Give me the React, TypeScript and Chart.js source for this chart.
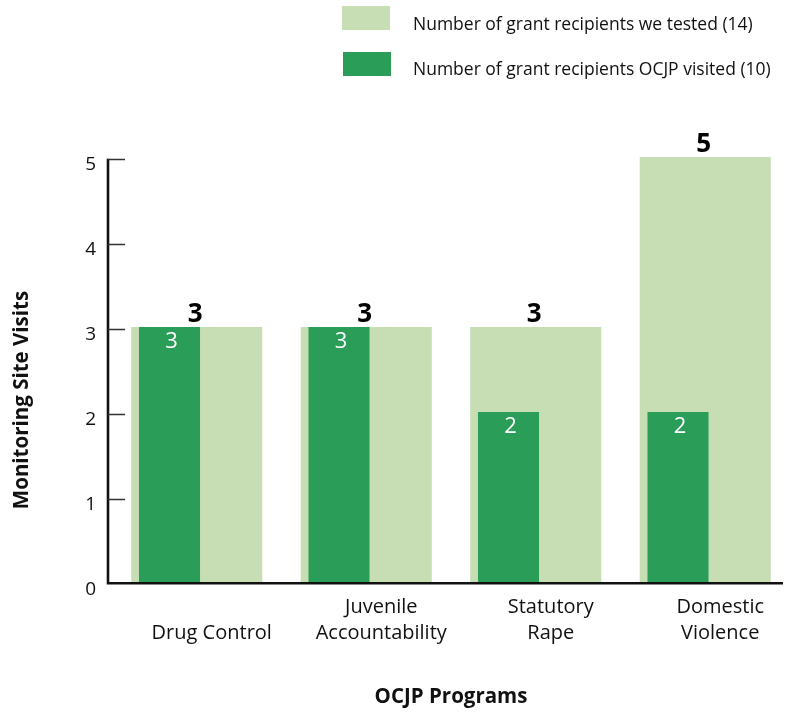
import React, { useEffect, useRef } from "react";
import { Chart, registerables } from "chart.js";

Chart.register(...registerables);

// Program categories (first entry padded so its text sits on the lower line)
const programs: string[][] = [
  ["", "Drug Control"],
  ["Juvenile", "Accountability"],
  ["Statutory", "Rape"],
  ["Domestic", "Violence"],
];
const testedCounts = [3, 3, 3, 5];
const visitedCounts = [3, 3, 2, 2];
const yMin = 0;
const yMax = 5;
const yStep = 1;
const seriesLabels = [
  "Number of grant recipients we tested (14)",
  "Number of grant recipients OCJP visited (10)",
];
const xTitle = "OCJP Programs";
const yTitle = "Monitoring Site Visits";

const LIGHT = "#c7ddb4";
const DARK = "#2a9d58";
const INK = "#111111";
const FONT = "'Open Sans', 'DejaVu Sans', sans-serif";

// Axis lines, inward tick marks, value labels, y title and legend
const decorations = {
  id: "decorations",
  afterDatasetsDraw(chart: any) {
    const { ctx, chartArea, scales } = chart;
    const y = scales.y;
    const axisX = chartArea.left - 4;
    const baseY = chartArea.bottom + 1.3;
    const tickY = (v: number) => Math.round(y.getPixelForValue(v)) + 2.5;
    ctx.save();

    // axes
    ctx.strokeStyle = INK;
    ctx.lineWidth = 2.6;
    ctx.beginPath();
    ctx.moveTo(axisX, tickY(yMax) - 0.8);
    ctx.lineTo(axisX, baseY + 1.3);
    ctx.moveTo(axisX - 1.3, baseY);
    ctx.lineTo(783, baseY);
    ctx.stroke();

    // tick marks pointing into the plot
    ctx.lineWidth = 1.6;
    ctx.strokeStyle = "#333";
    ctx.beginPath();
    for (let v = yMin + yStep; v <= yMax; v += yStep) {
      const py = tickY(v);
      ctx.moveTo(axisX, py);
      ctx.lineTo(axisX + 17, py);
    }
    ctx.stroke();

    // totals above the light bars
    const lightMeta = chart.getDatasetMeta(0);
    ctx.fillStyle = "#000";
    ctx.font = `bold 26px ${FONT}`;
    ctx.textAlign = "center";
    ctx.textBaseline = "alphabetic";
    lightMeta.data.forEach((bar: any, i: number) => {
      ctx.fillText(String(testedCounts[i]), bar.x - 1.5, bar.y - 5);
    });

    // counts inside the dark bars
    const darkMeta = chart.getDatasetMeta(1);
    ctx.fillStyle = "#ffffff";
    ctx.font = `22px ${FONT}`;
    ctx.textBaseline = "middle";
    darkMeta.data.forEach((bar: any, i: number) => {
      ctx.fillText(String(visitedCounts[i]), bar.x + 2, bar.y + 15);
    });

    // y axis title
    ctx.save();
    ctx.translate(22, 400);
    ctx.rotate(-Math.PI / 2);
    ctx.fillStyle = INK;
    ctx.font = `bold 20.5px ${FONT}`;
    ctx.textAlign = "center";
    ctx.textBaseline = "middle";
    ctx.fillText(yTitle, 0, 0);
    ctx.restore();

    // legend
    const colors = [LIGHT, DARK];
    const boxes = [
      [342, 6],
      [343, 52],
    ];
    ctx.font = `17.5px ${FONT}`;
    ctx.textAlign = "left";
    ctx.textBaseline = "alphabetic";
    seriesLabels.forEach((label, i) => {
      ctx.fillStyle = colors[i];
      ctx.fillRect(boxes[i][0], boxes[i][1], 48, 24);
      ctx.fillStyle = INK;
      ctx.fillText(label, 413, boxes[i][1] + 24 - i);
    });

    ctx.restore();
  },
};

export default function App() {
  const canvasRef = useRef<HTMLCanvasElement | null>(null);

  useEffect(() => {
    document.body.style.margin = "0";
    const canvas = canvasRef.current;
    if (!canvas) return;

    const chart = new Chart(canvas, {
      type: "bar",
      data: {
        labels: programs,
        datasets: [
          {
            label: seriesLabels[0],
            data: testedCounts,
            backgroundColor: LIGHT,
            grouped: false,
            categoryPercentage: 1,
            barPercentage: 0.773,
            order: 2,
          } as any,
          {
            label: seriesLabels[1],
            data: visitedCounts,
            backgroundColor: DARK,
            categoryPercentage: 0.643,
            barPercentage: 1.12,
            order: 1,
          },
          {
            // empty slot that keeps the dark bars in the left half
            label: "",
            data: visitedCounts.map(() => null),
            backgroundColor: "transparent",
            categoryPercentage: 0.643,
            barPercentage: 1.12,
            order: 3,
          },
        ],
      },
      options: {
        responsive: false,
        animation: false,
        layout: { padding: { top: 157, left: 0, right: 0, bottom: 0 } },
        plugins: {
          legend: { display: false },
          tooltip: { enabled: false },
        },
        scales: {
          x: {
            offset: true,
            grid: { display: false, drawTicks: false },
            border: { display: false },
            ticks: {
              color: INK,
              font: { family: FONT, size: 20, lineHeight: 1.3 },
              padding: 12,
              labelOffset: 15,
              maxRotation: 0,
              autoSkip: false,
            },
            title: {
              display: true,
              text: xTitle,
              color: INK,
              font: { family: FONT, size: 20.5, weight: "bold" },
              padding: { top: 0, bottom: 5 },
            },
            afterFit: (scale: any) => {
              scale.height = 132;
            },
          },
          y: {
            min: yMin,
            max: yMax,
            grid: { display: false, drawTicks: false },
            border: { display: false },
            ticks: {
              stepSize: yStep,
              color: INK,
              font: { family: FONT, size: 19 },
              padding: 16,
              labelOffset: 8,
            },
            afterFit: (scale: any) => {
              scale.width = 112;
            },
          },
        },
      },
      plugins: [decorations],
    });

    return () => chart.destroy();
  }, []);

  return (
    <canvas
      ref={canvasRef}
      width={790}
      height={714}
      style={{ display: "block", width: 790, height: 714 }}
    />
  );
}
